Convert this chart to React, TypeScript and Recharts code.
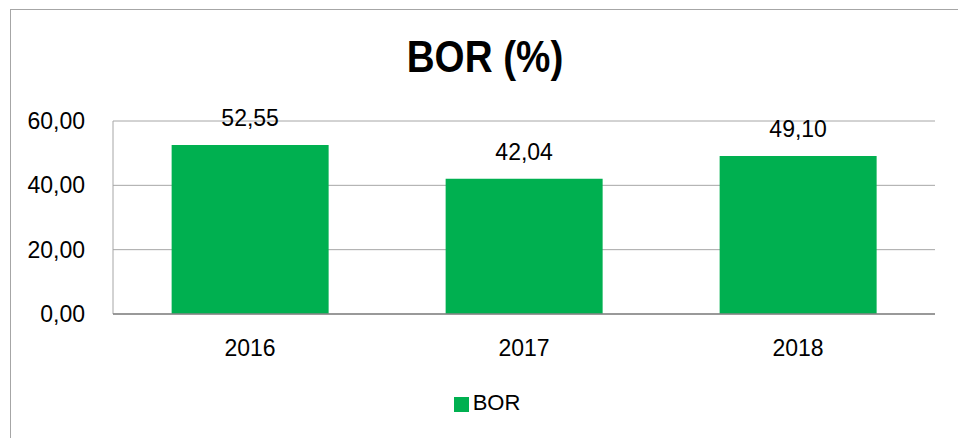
import React from 'react';
import { BarChart, Bar, XAxis, YAxis, CartesianGrid, Legend, LabelList } from 'recharts';

const years = ['2016', '2017', '2018'];
const borValues = [52.55, 42.04, 49.1];
const yTicks = [0, 20, 40, 60];

const data = years.map((y, i) => ({ year: y, BOR: borValues[i] }));

const fmt = (v: number) => v.toFixed(2).replace('.', ',');
const FONT = '"Liberation Sans", Arial, sans-serif';

export default function App() {
  return (
    <div style={{ position: 'absolute', left: 0, top: 0, width: 958, height: 438, background: '#fff', overflow: 'hidden', fontFamily: FONT }}>
      <div style={{ position: 'absolute', left: 9.5, top: 8.5, width: 970, height: 450, border: '1px solid #a6a6a6', boxSizing: 'border-box' }} />
      <div style={{ position: 'absolute', left: 485, top: 32, transform: 'translateX(-50%) scaleX(0.877)', whiteSpace: 'nowrap', fontFamily: FONT, fontWeight: 'bold', fontSize: 44, lineHeight: '50px', color: '#000' }}>
        BOR (%)
      </div>
      <div style={{ position: 'absolute', left: 0, top: 0 }}>
        <BarChart width={958} height={438} data={data} margin={{ top: 121, right: 23, bottom: 68, left: 0 }} barCategoryGap="21.4%">
          <CartesianGrid vertical={false} stroke="#a6a6a6" strokeWidth={1} />
          <YAxis
            width={113}
            domain={[0, 60]}
            ticks={yTicks}
            interval={0}
            tickFormatter={fmt}
            axisLine={{ stroke: '#a6a6a6' }}
            tickLine={false}
            tickMargin={22}
            tick={{ fill: '#000', fontSize: 23, fontFamily: FONT }}
          />
          <XAxis
            dataKey="year"
            axisLine={{ stroke: '#868686', strokeWidth: 1.5 }}
            tickLine={false}
            tickMargin={20}
            tick={{ fill: '#000', fontSize: 23, fontFamily: FONT }}
          />
          <Legend
            verticalAlign="bottom"
            iconType="square"
            iconSize={15}
            wrapperStyle={{ top: 390, left: 13, width: 958, fontSize: 22, fontFamily: FONT }}
            formatter={(value: string) => <span style={{ color: '#000' }}>{value}</span>}
          />
          <Bar dataKey="BOR" fill="#00b050" isAnimationActive={false}>
            <LabelList dataKey="BOR" position="top" offset={19} formatter={(v: number) => fmt(v)} style={{ fill: '#000', fontSize: 23, fontFamily: FONT }} />
          </Bar>
        </BarChart>
      </div>
    </div>
  );
}
